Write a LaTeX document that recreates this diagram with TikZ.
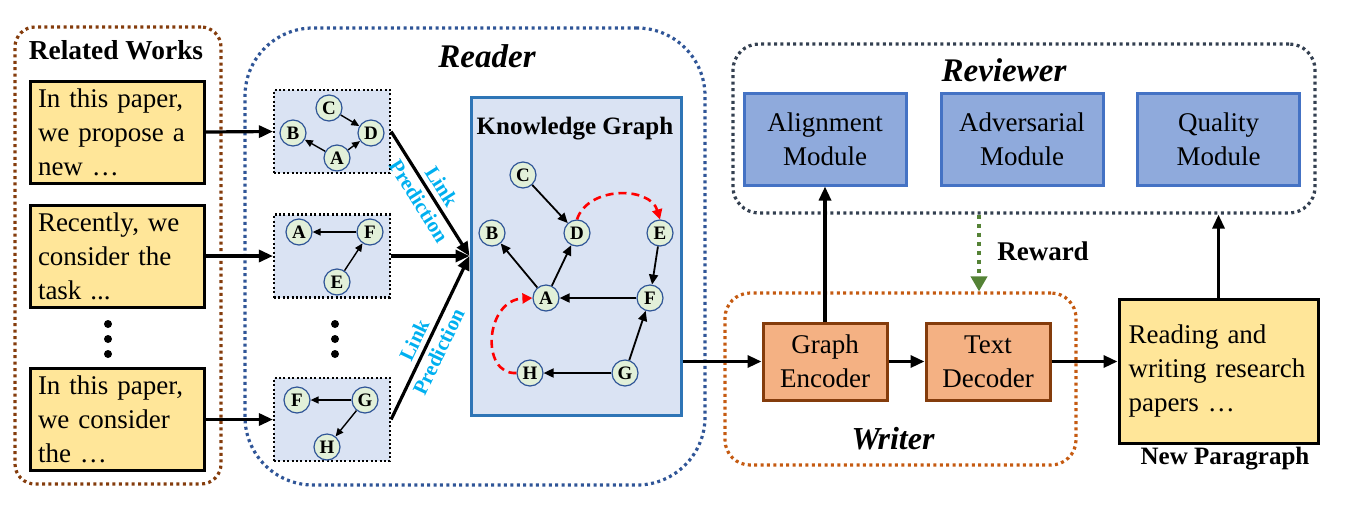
\documentclass[tikz,border=0pt]{standalone}
\usepackage{fontspec}
\setmainfont{Liberation Serif}
\usetikzlibrary{arrows.meta,calc}
\definecolor{ylw}{HTML}{FFE699}
\definecolor{lblue}{HTML}{DAE3F3}
\definecolor{lgreen}{HTML}{E2F0D9}
\definecolor{nodeblue}{HTML}{2F5597}
\definecolor{kgblue}{HTML}{2E75B6}
\definecolor{modfill}{HTML}{8FAADC}
\definecolor{modline}{HTML}{4472C4}
\definecolor{wrfill}{HTML}{F4B183}
\definecolor{wrline}{HTML}{843C0C}
\definecolor{rwbrown}{HTML}{843C0C}
\definecolor{rdblue}{HTML}{2F5597}
\definecolor{rvgray}{HTML}{333F50}
\definecolor{wrorange}{HTML}{C55A11}
\definecolor{rewgreen}{HTML}{548235}
\definecolor{linkcyan}{HTML}{00B0F0}
\tikzset{
  container/.style={draw, dash pattern=on 1.5pt off 1.7pt, line width=1.6pt, inner sep=0pt},
  ybox/.style={draw, line width=1.5pt, fill=ylw, text width=79pt, inner xsep=4pt, inner ysep=0pt,
    minimum height=51pt, align=left, font=\fontsize{13.5}{17}\selectfont},
  gbox/.style={draw, fill=lblue, dash pattern=on 1pt off 1.2pt, line width=1.1pt,
    minimum width=58pt, minimum height=41.5pt, inner sep=0pt},
  gn/.style={circle, draw=nodeblue, line width=0.6pt, fill=lgreen, minimum size=13pt, inner sep=0pt,
    font=\fontsize{9.5}{10}\selectfont\bfseries},
  gedge/.style={line width=0.7pt, -{Triangle[length=4pt,width=3.5pt]}},
  kedge/.style={line width=0.9pt, -{Triangle[length=5pt,width=4.5pt]}},
  redarc/.style={red, line width=1.3pt, dash pattern=on 4pt off 2.5pt, -{Triangle[length=5pt,width=5pt]}},
  bigarrow/.style={line width=1.6pt, -{Triangle[length=7pt,width=6pt]}},
  module/.style={draw=modline, fill=modfill, line width=1.5pt, minimum width=81pt, minimum height=46pt,
    align=center, inner sep=0pt, font=\fontsize{13.5}{17}\selectfont},
  wmodule/.style={draw=wrline, fill=wrfill, line width=1.5pt, minimum width=62pt, minimum height=38.5pt,
    align=center, inner sep=0pt, font=\fontsize{13.5}{17}\selectfont},
  titletext/.style={font=\fontsize{16.5}{18}\selectfont\bfseries\itshape},
  boldlabel/.style={font=\fontsize{13.5}{16}\selectfont\bfseries},
  linklabel/.style={font=\fontsize{10.5}{13.5}\selectfont\bfseries, text=linkcyan, align=center, inner sep=0pt},
  bigdot/.style={circle, fill=black, minimum size=4pt, inner sep=0pt}
}
\begin{document}
\begin{tikzpicture}[x=0.5pt,y=-0.5pt]
\useasboundingbox (0,0) rectangle (1352,509);

% containers
\node[container, draw=rwbrown, rounded corners=10pt, minimum width=103pt, minimum height=228.5pt] (related) at (118,255.5) {};
\node[container, draw=rdblue, rounded corners=34pt, minimum width=230pt, minimum height=228.5pt] (reader) at (475,256.5) {};
\node[container, draw=rvgray, rounded corners=13pt, minimum width=291pt, minimum height=84.5pt] (reviewer) at (1024,128.5) {};
\node[container, draw=wrorange, rounded corners=12.5pt, minimum width=175.5pt, minimum height=86pt] (writer) at (900.5,379) {};

% titles
\node[boldlabel, font=\fontsize{13.7}{16}\selectfont\bfseries] (rwtitle) at (116,50) {Related Works};
\node[titletext] (rdtitle) at (487,56) {Reader};
\node[titletext] (rvtitle) at (1004,70) {Reviewer};
\node[titletext, font=\fontsize{16}{18}\selectfont\bfseries\itshape] (wrtitle) at (893,439) {Writer};

% related works paragraphs
\node[ybox] (p1) at (117,132) {In this paper,\\we propose a\\new …};
\node[ybox] (p2) at (117,256) {Recently, we\\consider the\\task ...};
\node[ybox] (p3) at (117,419.5) {In this paper,\\we consider\\the …};
\node[bigdot] (ld1) at (108,324) {};
\node[bigdot] (ld2) at (108,339) {};
\node[bigdot] (ld3) at (108,354) {};

% small graphs
\node[gbox] (s1) at (332,131.5) {};
\node[gbox] (s2) at (332,256) {};
\node[gbox] (s3) at (332,419.5) {};
\node[bigdot] (md1) at (335,324) {};
\node[bigdot] (md2) at (335,339) {};
\node[bigdot] (md3) at (335,354) {};

\node[gn] (s1c) at (329,108) {C};
\node[gn] (s1b) at (293,133) {B};
\node[gn] (s1d) at (371,133) {D};
\node[gn] (s1a) at (337,158) {A};
\draw[gedge] (s1c) -- (s1d);
\draw[gedge] (s1a) -- (s1b);
\draw[gedge] (s1a) -- (s1d);

\node[gn] (s2a) at (299,232) {A};
\node[gn] (s2f) at (370,232) {F};
\node[gn] (s2e) at (337,282) {E};
\draw[gedge] (s2f) -- (s2a);
\draw[gedge] (s2e) -- (s2f);

\node[gn] (s3f) at (297,400) {F};
\node[gn] (s3g) at (365,400) {G};
\node[gn] (s3h) at (327,447) {H};
\draw[gedge] (s3g) -- (s3f);
\draw[gedge] (s3g) -- (s3h);

% knowledge graph
\node[draw=kgblue, fill=lblue, line width=1.5pt, minimum width=105pt, minimum height=159pt, inner sep=0pt] (kg) at (576,256) {};
\node[font=\fontsize{12.5}{14}\selectfont\bfseries] (kgtitle) at (575,129) {Knowledge Graph};
\node[gn] (kc) at (523,175) {C};
\node[gn] (kb) at (492,233) {B};
\node[gn] (kd) at (577,233) {D};
\node[gn] (ke) at (660,233) {E};
\node[gn] (ka) at (546,298) {A};
\node[gn] (kf) at (650,298) {F};
\node[gn] (kh) at (530,373) {H};
\node[gn] (kgg) at (625,373) {G};
\draw[kedge] (kc) -- (kd);
\draw[kedge] (ka) -- (kb);
\draw[kedge] (ka) -- (kd);
\draw[kedge] (ke) -- (kf);
\draw[kedge] (kf) -- (ka);
\draw[kedge] (kgg) -- (kf);
\draw[kedge] (kgg) -- (kh);
\draw[redarc] (kd.north) .. controls (588,186) and (650,186) .. (ke.north);
\draw[redarc] (kh.west) .. controls (480,375) and (485,300) .. (ka.west);

% arrows paragraphs -> small graphs
\draw[bigarrow] (p1.east) -- (s1.west);
\draw[bigarrow] (p2.east) -- (s2.west);
\draw[bigarrow] (p3.east |- s3.west) -- (s3.west);

% small graphs -> KG
\draw[bigarrow] (s1.east) -- node[sloped, linklabel, pos=0.5] {Link\\Prediction} (kg.west);
\draw[bigarrow] (s2.east) -- (kg.west);
\draw[bigarrow] (s3.east) -- node[sloped, linklabel, pos=0.45] {Link\\Prediction} (kg.west);

% reviewer modules
\node[module] (align) at (825,139) {Alignment\\Module};
\node[module] (adv) at (1022,139) {Adversarial\\Module};
\node[module] (qual) at (1218.5,139) {Quality\\Module};

% writer modules
\node[wmodule] (ge) at (825,361.5) {Graph\\Encoder};
\node[wmodule] (td) at (988,361.5) {Text\\Decoder};

% new paragraph
\node[draw, line width=1.5pt, fill=ylw, text width=90pt, inner xsep=4.75pt, minimum height=72pt, align=left,
  font=\fontsize{13.5}{17}\selectfont] (np) at (1218.5,371) {Reading and\\writing research\\papers …};
\node[font=\fontsize{12.5}{14}\selectfont\bfseries] (nptitle) at (1225,459) {New Paragraph};

% main flow arrows
\draw[bigarrow] (kg.east |- ge.west) -- (ge.west);
\draw[bigarrow] (ge.east) -- (td.west);
\draw[bigarrow] (td.east) -- (np.west |- td.east);
\draw[bigarrow] (ge.north) -- (align.south);
\draw[bigarrow] (np.north) -- (np.north |- reviewer.south);

% reward
\coordinate (rwx) at (979,0);
\draw[rewgreen, line width=2.3pt, dash pattern=on 2.3pt off 2.2pt, -{Triangle[length=7.5pt,width=8pt]}]
  (reviewer.south -| rwx) -- (writer.north -| rwx);
\node[boldlabel] (reward) at (1043,251) {Reward};
\end{tikzpicture}
\end{document}
